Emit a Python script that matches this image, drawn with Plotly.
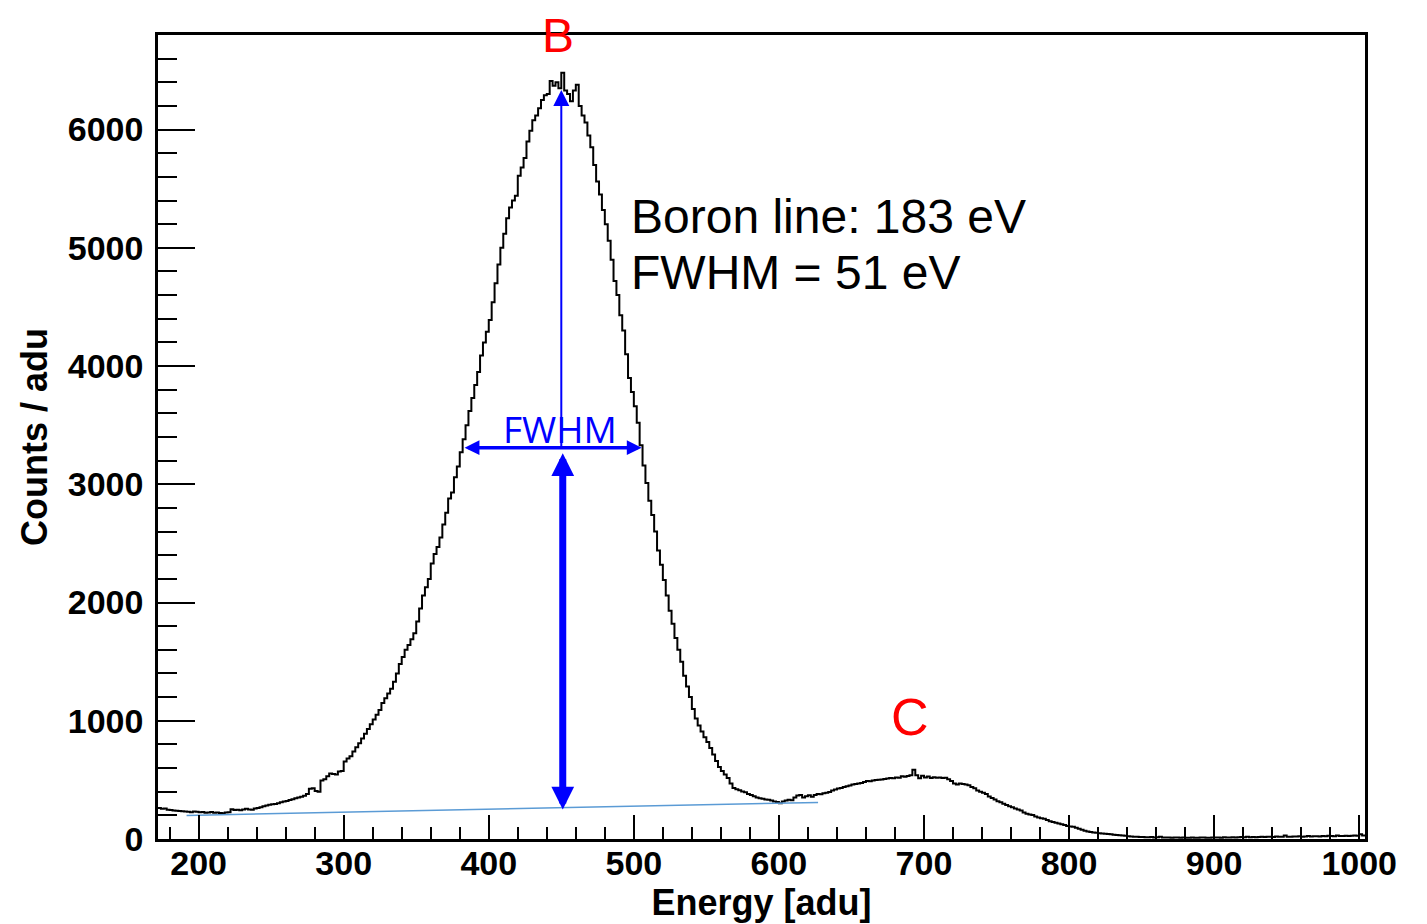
import plotly.graph_objects as go

# Histogram: bin edges start at 172 adu, bin width 2 adu
bin_start = 172
bin_width = 2
counts = [
    262, 255, 258, 248, 246, 242, 238, 236, 234, 232,
    230, 226, 232, 230, 226, 228, 222, 224, 228, 222,
    224, 220, 218, 224, 226, 252, 246, 248, 244, 250,
    255, 250, 248, 258, 262, 268, 278, 284, 290, 294,
    296, 302, 310, 318, 322, 330, 336, 344, 350, 358,
    365, 380, 425, 430, 405, 400, 495, 505, 530, 555,
    550, 545, 570, 575, 655, 680, 700, 740, 775, 810,
    850, 890, 930, 970, 1010, 1050, 1090, 1150, 1190, 1230,
    1270, 1330, 1400, 1480, 1540, 1600, 1640, 1690, 1740, 1840,
    1950, 2060, 2130, 2200, 2330, 2410, 2470, 2550, 2660, 2760,
    2880, 2930, 3060, 3150, 3270, 3380, 3500, 3620, 3730, 3840,
    3950, 4090, 4200, 4290, 4390, 4540, 4700, 4860, 5000, 5120,
    5250, 5340, 5400, 5440, 5610, 5680, 5760, 5900, 5990, 6080,
    6120, 6180, 6250, 6290, 6300, 6410, 6370, 6400, 6350, 6480,
    6330, 6300, 6240, 6330, 6380, 6200, 6120, 6060, 5950, 5850,
    5700, 5560, 5450, 5320, 5200, 5060, 4900, 4720, 4600, 4430,
    4300, 4100, 3900, 3780, 3660, 3520, 3330, 3160, 3010, 2860,
    2740, 2600, 2440, 2320, 2190, 2060, 1930, 1820, 1700, 1600,
    1500, 1380, 1290, 1200, 1100, 1020, 960, 910, 860, 820,
    770, 715, 660, 610, 575, 545, 515, 470, 432, 420,
    412, 402, 395, 380, 372, 362, 350, 345, 340, 335,
    332, 326, 318, 312, 302, 318, 325, 332, 328, 350,
    368, 372, 350, 362, 370, 358, 372, 380, 378, 386,
    392, 398, 410, 418, 428, 432, 440, 446, 452, 460,
    466, 470, 474, 482, 490, 488, 494, 498, 502, 504,
    508, 512, 516, 514, 520, 518, 530, 526, 532, 540,
    585, 540, 514, 535, 520, 528, 516, 522, 518, 520,
    516, 518, 505, 490, 470, 460, 470, 465, 462, 455,
    440, 430, 410, 400, 392, 380, 360, 346, 334, 320,
    310, 298, 288, 276, 268, 258, 250, 240, 225, 214,
    208, 203, 190, 182, 176, 172, 160, 150, 144, 138,
    132, 124, 118, 110, 106, 104, 96, 86, 78, 70,
    64, 60, 55, 52, 48, 46, 44, 42, 40, 37,
    34, 32, 29, 27, 24, 22, 20, 18, 17, 16,
    15, 14, 16, 13, 14, 20, 12, 13, 12, 11,
    12, 13, 11, 12, 10, 11, 12, 10, 11, 12,
    12, 11, 10, 12, 13, 12, 11, 14, 12, 13,
    14, 13, 15, 16, 14, 18, 15, 16, 14, 17,
    18, 16, 20, 18, 17, 22, 19, 18, 30, 20,
    19, 22, 21, 24, 20, 22, 26, 21, 24, 23,
    22, 26, 24, 28, 25, 24, 30, 26, 25, 28,
    26, 28, 30, 27, 40, 30,
]

# Linear background line under the B peak
bg_x = [191.7, 627.0]
bg_y = [199, 309]

# Annotation anchor values (data units)
peak_x = 450.0
peak_top = 6335
half_max = 3310
fwhm_left = 382.3
fwhm_right = 505.4
thick_x = 451.0
thick_top = 3275
thick_bottom = 250

edges = [bin_start + i * bin_width for i in range(len(counts) + 1)]
x_step = edges
y_step = counts + [counts[-1]]

fig = go.Figure()
fig.add_trace(go.Scatter(
    x=x_step, y=y_step, mode="lines", line=dict(shape="hv", color="black", width=2),
    showlegend=False, hoverinfo="skip"))
fig.add_trace(go.Scatter(
    x=bg_x, y=bg_y, mode="lines", line=dict(color="#5b9bd5", width=1.5),
    showlegend=False, hoverinfo="skip"))

BLUE = "#0000ff"
ann = []
# thin vertical arrow (peak height)
ann.append(dict(x=peak_x, y=peak_top, ax=peak_x, ay=half_max, xref="x", yref="y",
                axref="x", ayref="y", showarrow=True, arrowhead=2, arrowsize=1.6,
                arrowwidth=2, arrowcolor=BLUE, standoff=0, text=""))
# horizontal FWHM double arrow
ann.append(dict(x=fwhm_right, y=half_max, ax=fwhm_left, ay=half_max, xref="x", yref="y",
                axref="x", ayref="y", showarrow=True, arrowhead=2, arrowsize=0.85,
                arrowwidth=3.5, arrowside="end+start", arrowcolor=BLUE,
                standoff=0, startstandoff=0, text=""))
# thick vertical double arrow
ann.append(dict(x=thick_x, y=thick_bottom, ax=thick_x, ay=thick_top, xref="x", yref="y",
                axref="x", ayref="y", showarrow=True, arrowhead=2, arrowsize=0.65,
                arrowwidth=7, arrowside="end+start", arrowcolor=BLUE,
                standoff=0, startstandoff=0, text=""))
ann.append(dict(x=449, y=3470, xref="x", yref="y", text="FWHM", showarrow=False,
                font=dict(family="Open Sans", size=37, color=BLUE),
                xanchor="center", yanchor="middle"))
ann.append(dict(x=447.6, y=1.0, xref="x", yref="paper", text="B", showarrow=False,
                font=dict(family="Liberation Sans", size=48, color="#ff0000"),
                xanchor="center", yanchor="middle"))
ann.append(dict(x=690.4, y=1035, xref="x", yref="y", text="C", showarrow=False,
                font=dict(family="Liberation Sans", size=52, color="#ff0000"),
                xanchor="center", yanchor="middle"))
ann.append(dict(x=497, y=5262, xref="x", yref="y", text="Boron line: 183 eV",
                showarrow=False, font=dict(family="Liberation Sans", size=48, color="black"),
                xanchor="left", yanchor="middle"))
ann.append(dict(x=497, y=4789, xref="x", yref="y", text="FWHM = 51 eV",
                showarrow=False, font=dict(family="Liberation Sans", size=48, color="black"),
                xanchor="left", yanchor="middle"))

tickfont = dict(family="Liberation Sans", size=34, color="black", weight="bold")
titlefont = dict(family="Liberation Sans", size=36, color="black", weight="bold")

# page body has a small default margin: size/margins compensate so the frame
# lands at x 156..1366, y 33..837 in the 1427x924 window
fig.update_layout(
    width=1419, height=916,
    margin=dict(l=150, r=62, t=27, b=85),
    paper_bgcolor="white", plot_bgcolor="white",
    annotations=ann,
    xaxis=dict(range=[172, 1004], showgrid=False, zeroline=False,
               showline=True, linecolor="black", linewidth=2.5, mirror=True,
               ticks="inside", ticklen=24, tickwidth=2, tickcolor="black",
               tick0=0, dtick=100, tickfont=tickfont, ticklabelstandoff=-8,
               minor=dict(ticks="inside", ticklen=12, tickwidth=2, tickcolor="black",
                          dtick=20, tick0=0, showgrid=False),
               title=dict(text="Energy [adu]", font=titlefont, standoff=2)),
    yaxis=dict(range=[0, 6800], showgrid=False, zeroline=False,
               showline=True, linecolor="black", linewidth=2.5, mirror=True,
               ticks="inside", ticklen=37, tickwidth=2, tickcolor="black",
               tick0=0, dtick=1000, tickfont=tickfont, ticklabelstandoff=5,
               minor=dict(ticks="inside", ticklen=19, tickwidth=2, tickcolor="black",
                          dtick=200, tick0=0, showgrid=False),
               title=dict(text="Counts / adu", font=titlefont, standoff=10)),
)

fig.write_html("out.html")
